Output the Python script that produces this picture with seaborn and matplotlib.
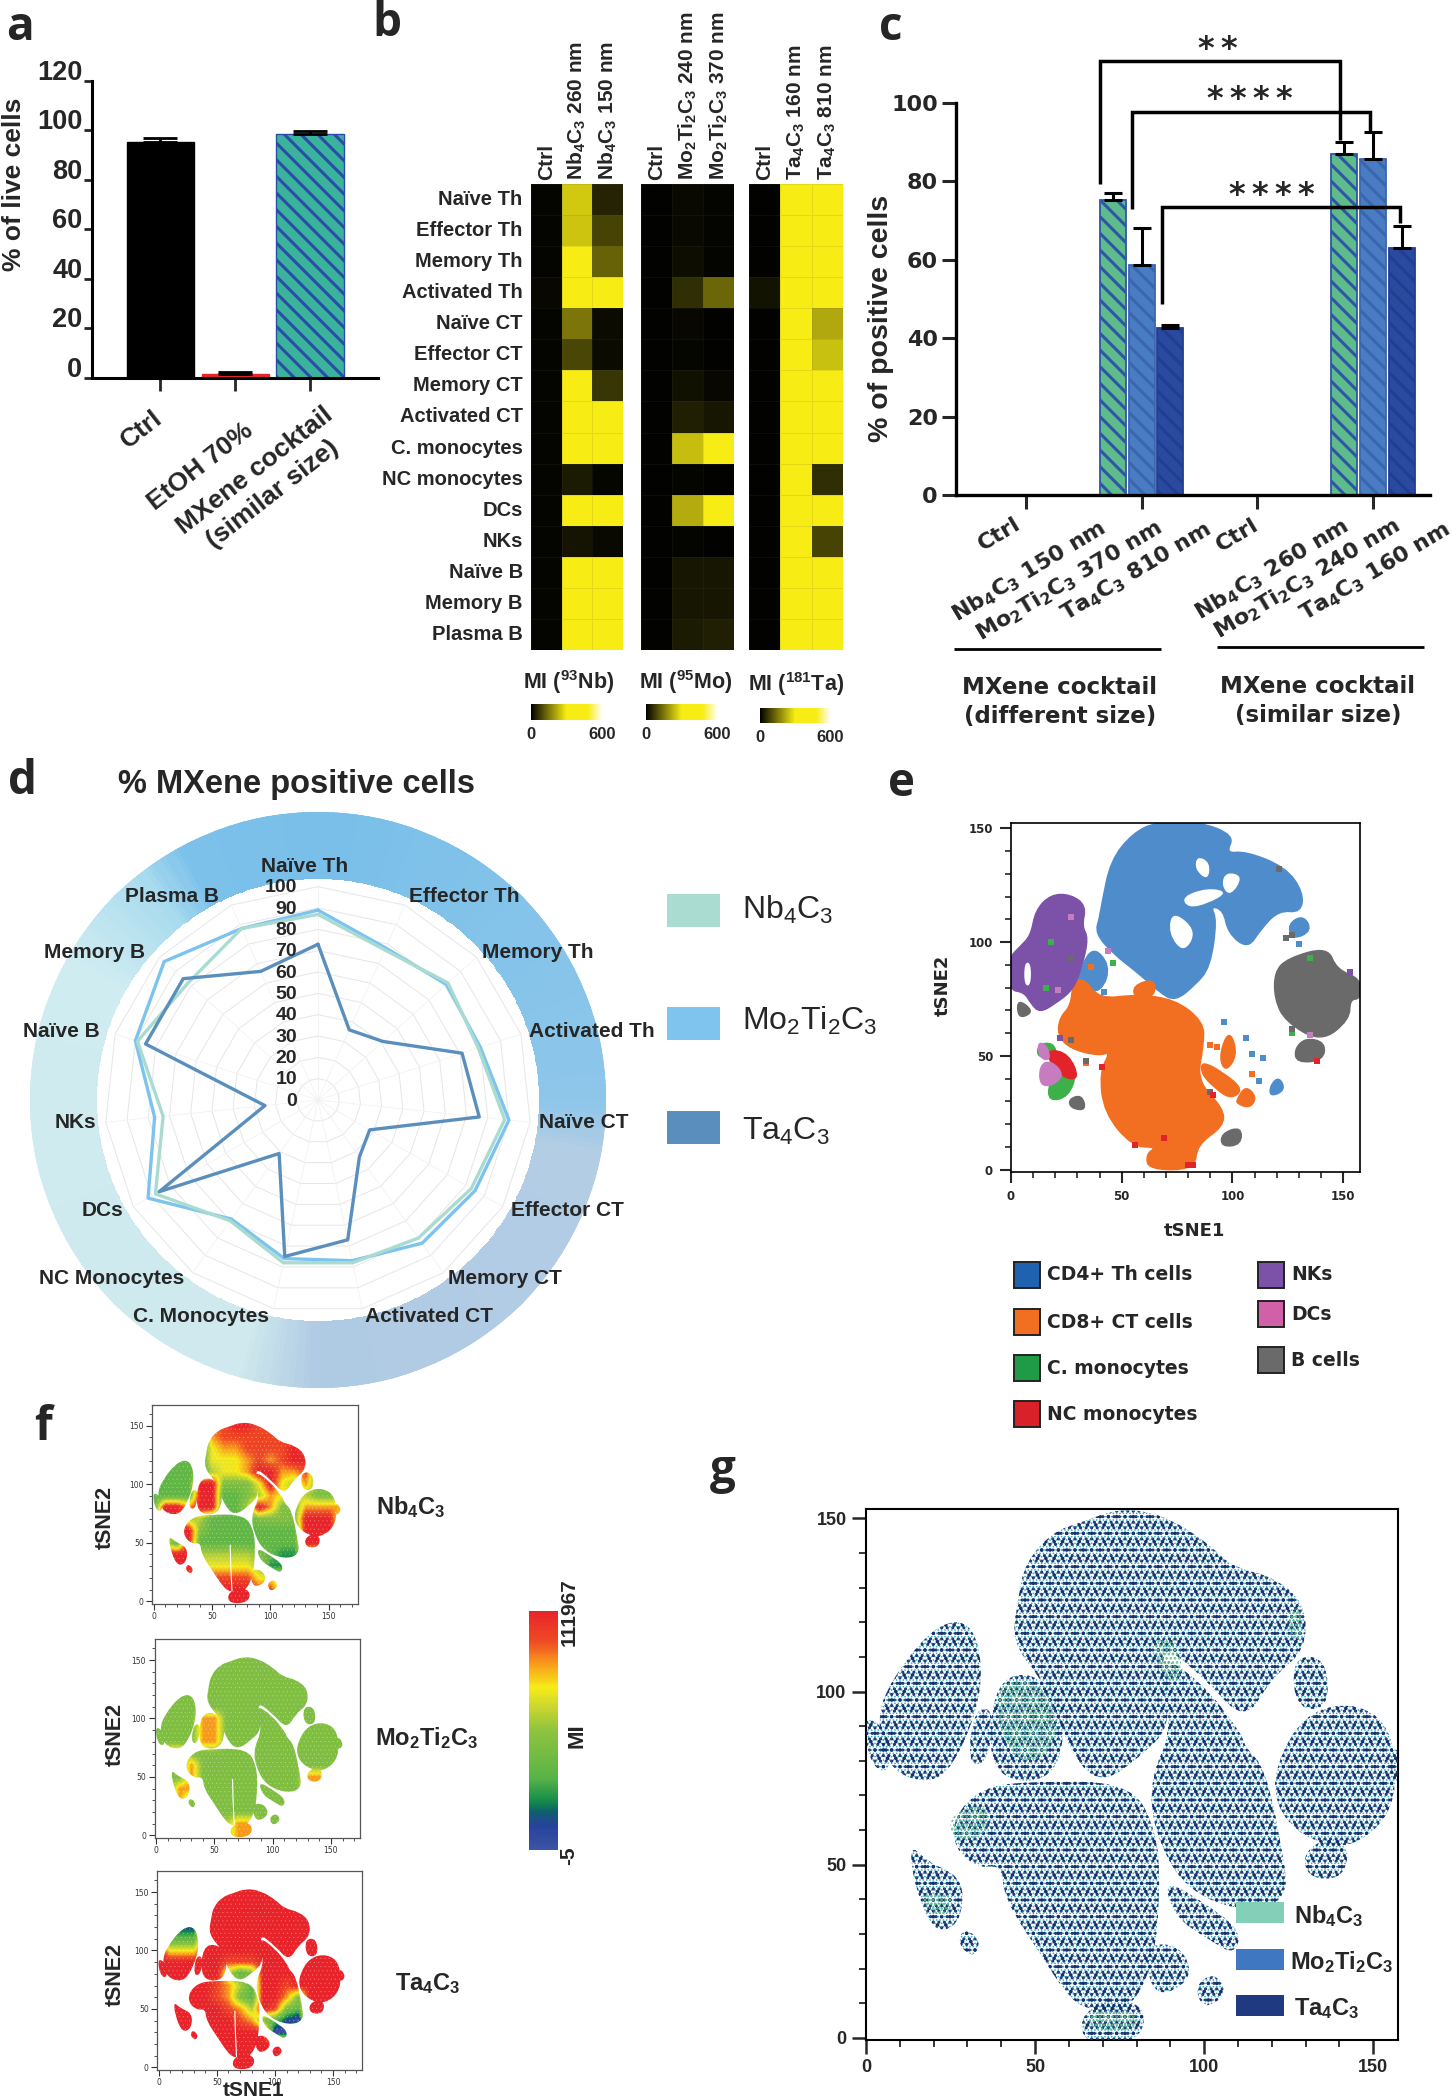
"""
MXene cocktail figure: panels a-g (viability, heatmaps, uptake, radar, tSNE maps).
"""

import matplotlib as mpl

mpl.use("Agg")

import matplotlib.pyplot as plt
import numpy as np
import pandas as pd
import seaborn as sns
from matplotlib.cm import ScalarMappable
from matplotlib.colors import LinearSegmentedColormap, Normalize
from matplotlib.lines import Line2D
from matplotlib.patches import PathPatch, Rectangle
from matplotlib.path import Path
from matplotlib.ticker import MultipleLocator

# ==========================================================
# Data
# ==========================================================

NB = "Nb$_4$C$_3$"
MO = "Mo$_2$Ti$_2$C$_3$"
TA = "Ta$_4$C$_3$"

# panel a
LIVE_LABELS = ["Ctrl", "EtOH 70%", "MXene cocktail"]
LIVE_VALUES = [95.5, 1.6, 98.6]
LIVE_ERR = [1.5, 0.9, 1.0]

# panel b
CELL_ROWS = ["Naïve Th", "Effector Th", "Memory Th", "Activated Th", "Naïve CT", "Effector CT",
             "Memory CT", "Activated CT", "C. monocytes", "NC monocytes", "DCs", "NKs",
             "Naïve B", "Memory B", "Plasma B"]
NB_COLS = ["Ctrl", NB + " 260 nm", NB + " 150 nm"]
NB_CTRL = [6, 6, 6, 10, 5, 5, 5, 5, 5, 5, 5, 5, 5, 5, 5]
NB_260 = [255, 250, 320, 320, 150, 90, 320, 320, 320, 35, 320, 28, 320, 320, 320]
NB_150 = [45, 85, 125, 320, 15, 15, 70, 320, 320, 8, 320, 12, 320, 320, 320]
MO_COLS = ["Ctrl", MO + " 240 nm", MO + " 370 nm"]
MO_CTRL = [3] * 15
MO_240 = [12, 12, 18, 60, 10, 8, 22, 40, 240, 5, 220, 6, 30, 30, 35]
MO_370 = [6, 6, 5, 130, 4, 4, 10, 30, 320, 3, 320, 3, 30, 30, 40]
TA_COLS = ["Ctrl", TA + " 160 nm", TA + " 810 nm"]
TA_CTRL = [3, 3, 3, 25, 3, 3, 3, 3, 3, 3, 3, 3, 3, 3, 3]
TA_160 = [320] * 15
TA_810 = [320, 320, 320, 320, 215, 245, 320, 320, 320, 60, 320, 85, 320, 320, 320]

# panel c
POS_ORDER = ["Ctrl ", " ", "  ", "Nb 150", "Mo 370", "Ta 810", "   ", "    ",
             "Ctrl  ", "     ", "      ", "Nb 260", "Mo 240", "Ta 160"]
POS_BARS = ["Ctrl ", "Nb 150", "Mo 370", "Ta 810", "Ctrl  ", "Nb 260", "Mo 240", "Ta 160"]
POS_VALUES = [0, 75.2, 58.7, 42.7, 0, 87.0, 85.7, 62.9]
POS_ERR = [0, 1.8, 9.3, 0.7, 0, 3.0, 6.8, 5.6]
POS_LABELS = ["Ctrl", NB + " 150 nm", MO + " 370 nm", TA + " 810 nm",
              "Ctrl", NB + " 260 nm", MO + " 240 nm", TA + " 160 nm"]

# panel d
RADAR_LABELS = ["Naïve Th", "Effector Th", "Memory Th", "Activated Th", "Naïve CT", "Effector CT",
                "Memory CT", "Activated CT", "C. Monocytes", "NC Monocytes", "DCs", "NKs",
                "Naïve B", "Memory B", "Plasma B"]
RADAR_NB = [87, 77, 82, 79, 88, 83, 80, 78, 78, 70, 88, 73, 89, 82, 88]
RADAR_MO = [89, 78, 81, 80, 90, 85, 83, 77, 76, 69, 92, 77, 90, 97, 88]
RADAR_TA = [73, 36, 41, 71, 76, 28, 33, 67, 75, 31, 86, 25, 85, 85, 66]
RADAR_TICKS = [0, 10, 20, 30, 40, 50, 60, 70, 80, 90, 100]

E_TH = [[(41, 117), (45, 136), (55, 148), (66, 153), (85, 153), (101, 147), (97, 139), (106, 140),
         (124, 133), (132, 122), (131, 113), (121, 114), (113, 106), (107, 97), (98, 104), (96, 114),
         (90, 116), (93, 110), (90, 89), (83, 81), (74, 74), (67, 78), (58, 86), (46, 95), (38, 104),
         (40, 111)],
        [(29, 81), (36, 99), (45, 90), (41, 78), (31, 79)],
        [(125, 108), (132, 112), (136, 105), (127, 101)],
        [(117, 37), (121, 41), (124, 35), (117, 32)]]
E_TH_HOLES = [[(73, 114), (84, 105), (78, 95), (71, 104)],
              [(77, 120), (89, 124), (98, 122), (89, 117), (80, 115)],
              [(97, 131), (105, 129), (99, 120), (95, 125)],
              [(84, 138), (90, 135), (89, 127), (83, 132)],
              [(6, 91), (9, 91), (9, 81), (6, 81)]]
E_CT = [[(28, 83), (33, 84), (40, 75), (56, 77), (74, 75), (87, 65), (87, 55), (84, 39), (96, 27),
         (96, 19), (84, 11), (83, 0), (62, 0), (61, 7), (66, 10), (55, 10), (42, 25), (40, 43),
         (45, 52), (40, 50), (27, 53), (21, 59), (22, 67), (27, 72)],
        [(86, 48), (97, 42), (105, 35), (99, 31), (92, 36), (86, 42)],
        [(102, 31), (106, 37), (111, 32), (108, 27), (102, 29)],
        [(97, 59), (100, 59), (102, 50), (97, 43), (94, 49)],
        [(55, 81), (65, 84), (65, 76), (56, 75)]]
E_NK = [[(18, 121), (27, 121), (34, 116), (32, 107), (35, 102), (32, 89), (28, 79), (20, 73), (13, 69),
         (9, 73), (6, 78), (-1, 79), (-1, 93), (4, 98), (9, 103), (11, 114)]]
E_B = [[(119, 87), (125, 93), (143, 98), (147, 88), (158, 84), (158, 75), (153, 75), (153, 66),
        (140, 56), (124, 65), (119, 75)],
       [(128, 53), (133, 58), (142, 56), (141, 48), (129, 47)],
       [(3, 75), (10, 70), (6, 67), (3, 68)],
       [(26, 31), (32, 33), (34, 26), (27, 27)],
       [(95, 16), (104, 19), (104, 11), (95, 10)]]
E_CMONO = [[(22, 41), (30, 43), (26, 32), (17, 30), (17, 38)],
           [(12, 55), (19, 56), (21, 50), (12, 49)]]
E_NCMONO = [[(17, 53), (26, 51), (31, 40), (24, 40), (17, 48)]]
E_DC = [[(13, 46), (18, 48), (24, 42), (19, 37), (13, 37)],
        [(12, 56), (16, 55), (18, 48), (13, 49)]]
E_SPECKS = {
    "th": [(96, 65), (106, 58), (109, 51), (114, 49), (112, 39), (42, 78), (130, 99)],
    "ct": [(90, 55), (93, 54), (96, 49), (109, 42), (36, 89), (34, 47)],
    "mono": [(46, 91), (18, 100), (16, 80), (135, 93), (127, 60)],
    "dc": [(44, 96), (27, 111), (135, 59), (21, 79)],
    "nk": [(153, 87), (22, 58)],
    "b": [(127, 62), (127, 103), (90, 34), (34, 48), (27, 57), (124, 102), (121, 132), (27, 93)],
    "nc": [(91, 33), (80, 2), (56, 11), (69, 14), (138, 48), (41, 45), (82, 2)],
}

# panels f, g: same cells, outlines in tSNE units
TSNE_CLUSTERS = [
    [(45, 127), (47, 137), (55, 146), (64, 149), (75, 153), (88, 151), (101, 143), (108, 136), (121, 133),
     (130, 125), (130, 112), (120, 104), (112, 91), (100, 104), (86, 115), (91, 91), (81, 81), (69, 73),
     (60, 83), (54, 101), (43, 114)],
    [(85, 112), (99, 103), (111, 88), (112, 84), (118, 78), (123, 55), (125, 40), (112, 36), (94, 43),
     (85, 60), (84, 75), (91, 90)],
    [(7, 103), (21, 120), (32, 120), (35, 102), (28, 82), (20, 73), (7, 77), (3, 91)],
    [(-1, 94), (7, 88), (7, 76), (1, 79)],
    [(38, 103), (50, 106), (59, 94), (57, 77), (46, 73), (36, 79)],
    [(32, 95), (38, 95), (36, 79), (30, 79)],
    [(26, 64), (34, 72), (46, 74), (78, 74), (86, 60), (87, 42), (85, 21), (78, 8), (65, 8), (59, 13),
     (51, 25), (41, 40), (40, 50), (33, 49), (26, 55)],
    [(82, 27), (93, 27), (97, 17), (85, 11)],
    [(97, 15), (103, 19), (107, 13), (100, 8)],
    [(63, 6), (72, 12), (83, 9), (81, -1), (65, -2)],
    [(88, 46), (100, 39), (111, 31), (109, 24), (102, 28), (91, 35)],
    [(121, 79), (130, 94), (145, 97), (156, 89), (157, 66), (143, 54), (129, 58), (121, 67)],
    [(126, 110), (136, 110), (137, 95), (127, 95)],
    [(129, 53), (136, 58), (143, 55), (141, 46), (131, 46)],
    [(156, 85), (161, 78), (157, 73), (154, 78)],
    [(13, 56), (18, 51), (29, 46), (28, 33), (20, 30), (14, 45)],
    [(29, 32), (34, 28), (32, 23), (27, 27)],
]
TSNE_GAPS = [[(67, 9), (66, 30), (65.5, 48)]]

# panel f: MI level per 10x10 tSNE cell, 0 (blue) to 9 (red), top row y=150, bottom row y=0
MI_NB = ["33333789988888333", "33333788888888333", "33333677888898333", "33333666787899833",
         "33333566799778333", "33339944469657444", "33339933457665444", "39979933597447777",
         "59955333344449995", "55994333333339995", "95393333333339955", "99995555543225555",
         "99996666652225555", "88888888866555555", "99999999988555555", "99999999999555555"]
MI_MO = ["44444444444444444", "44444444444444444", "44444444444444444", "44444444444444444",
         "44444444444444444", "44447744444444444", "44447744444444444", "44447744444444444",
         "47744444444444444", "44474444444444444", "44474444444447744", "44774444444447744",
         "44744444444444444", "44444444444444444", "44444457744444444", "44444457774444444"]
MI_TA = ["99999999999999999", "99999999999999999", "99999999999999999", "91119999999999999",
         "93339999999999999", "96669999999999999", "99999988899999999", "99999953499999999",
         "99999875399899999", "99999874399749999", "99999987598439999", "99999998743109999",
         "99999999990099999", "99999999999999999", "99999999999999999", "99999999999999999"]

# panel g: places where the green cells are packed tighter
G_DENSE = [[(84, 115), (92, 115), (94, 103), (88, 103)],
           [(39, 103), (52, 103), (58, 90), (52, 80), (44, 80), (39, 90)],
           [(25, 65), (36, 68), (36, 58), (25, 57)],
           [(14, 42), (27, 42), (23, 33)],
           [(66, 8), (80, 8), (80, 2), (66, 2)],
           [(125, 124), (129, 124), (129, 115), (125, 115)]]

# ==========================================================
# Figure helpers
# ==========================================================

W, H = 1452, 2100

sns.set_theme(style="white")
plt.rcParams["font.family"] = ["Liberation Sans", "DejaVu Sans"]
plt.rcParams["font.weight"] = "bold"
plt.rcParams["mathtext.default"] = "regular"
plt.rcParams["hatch.linewidth"] = 2.2

fig = plt.figure(figsize=(W / 100, H / 100), dpi=100, facecolor="white")


def px_axes(left, top, right, bottom, **kwargs):
    return fig.add_axes([left / W, 1 - bottom / H, (right - left) / W, (bottom - top) / H], **kwargs)


def ftext(x, y, text, size, **kwargs):
    kwargs.setdefault("ha", "center")
    kwargs.setdefault("va", "center")
    kwargs.setdefault("weight", "bold")
    return fig.text(x / W, 1 - y / H, text, fontsize=size, **kwargs)


def fline(xs, ys, lw=2.5, color="black"):
    fig.add_artist(Line2D([x / W for x in xs], [1 - y / H for y in ys], lw=lw, color=color,
                          solid_capstyle="butt", solid_joinstyle="miter"))


def fbox(left, top, right, bottom, color, edge="none", lw=0):
    fig.add_artist(Rectangle((left / W, 1 - bottom / H), (right - left) / W, (bottom - top) / H,
                             facecolor=color, edgecolor=edge, lw=lw, transform=fig.transFigure))


def round_outline(points):
    """Closed bezier path with the outline's points as control points, so corners draw round."""
    pts = np.array(points, dtype=float)
    mids = (pts + np.roll(pts, -1, axis=0)) / 2
    verts = [mids[-1]]
    codes = [Path.MOVETO]
    for p, m in zip(pts, mids):
        verts += [p, m]
        codes += [Path.CURVE3, Path.CURVE3]
    return Path(verts, codes)


for letter, lx, ly in [("a", 20, 28), ("b", 387, 24), ("c", 891, 27), ("d", 22, 781),
                       ("e", 902, 784), ("f", 43, 1428), ("g", 723, 1471)]:
    ftext(lx, ly, letter, 33, family="Open Sans")

# ==========================================================
# Panel a
# ==========================================================

ax = px_axes(92, 81, 378, 378)
sns.barplot(x=LIVE_LABELS, y=LIVE_VALUES, ax=ax, color="black", width=0.9, saturation=1)
for patch, face, edge, hatch in zip(ax.patches, ["black", "#e8262a", "#3bb39c"],
                                    ["black", "#e8262a", "#2a4da8"], [None, None, "\\\\"]):
    patch.set_facecolor(face)
    patch.set_edgecolor(edge)
    patch.set_linewidth(1)
    patch.set_hatch(hatch)
centers = [p.get_x() + p.get_width() / 2 for p in ax.patches]
ax.errorbar(centers, LIVE_VALUES, yerr=[[0, 0, 0], LIVE_ERR], fmt="none", ecolor="black",
            elinewidth=2, capsize=12, capthick=2)
ax.set_xlim(-0.916, 2.91)
ax.set_ylim(0, 120)
ax.set_yticks(range(0, 121, 20))
ax.set_xticklabels([])
ax.tick_params(axis="y", length=6, width=2, left=True, pad=1, labelsize=19.5)
ax.tick_params(axis="x", length=9, width=2, bottom=True)
sns.despine(ax=ax)
for side in ["left", "bottom"]:
    ax.spines[side].set_linewidth(2.2)
    ax.spines[side].set_color("black")
for label in ax.get_yticklabels():
    label.set_transform(label.get_transform() + mpl.transforms.ScaledTranslation(0, 0.11, fig.dpi_scale_trans))
ftext(14, 184, "% of live cells", 19, rotation=90)
ftext(152, 406, "Ctrl", 19, ha="right", va="top", rotation=38, rotation_mode="anchor")
ftext(243, 418, "EtOH 70%", 19, ha="right", va="top", rotation=38, rotation_mode="anchor")
ftext(264, 483, "MXene cocktail\n(similar size)", 19, rotation=38, linespacing=1.3, multialignment="center")

# ==========================================================
# Panel b
# ==========================================================

mi_cmap = LinearSegmentedColormap.from_list(
    "mi_yellow", [(0, "#000000"), (0.5, "#f7ec13"), (0.8, "#f7ec13"), (1, "#fffef0")])

heat_sets = [
    (NB_COLS, [NB_CTRL, NB_260, NB_150], (531, 623), (531, 704, 602, 720), "MI ($^{93}$Nb)", 569, 682),
    (MO_COLS, [MO_CTRL, MO_240, MO_370], (641, 734), (646, 704, 717, 720), "MI ($^{95}$Mo)", 686, 682),
    (TA_COLS, [TA_CTRL, TA_160, TA_810], (749, 843), (760, 708, 830, 723), "MI ($^{181}$Ta)", 796, 684),
]
for i, (cols, values, xr, cb, title, tx, ty) in enumerate(heat_sets):
    ax = px_axes(xr[0], 184, xr[1], 650)
    cax = px_axes(cb[0], cb[1], cb[2], cb[3])
    table = pd.DataFrame(np.array(values).T, index=CELL_ROWS, columns=cols)
    sns.heatmap(table, ax=ax, cmap=mi_cmap, vmin=0, vmax=600, cbar_ax=cax, linewidths=0.4,
                linecolor="#5a5a3a22", yticklabels=(i == 0),
                cbar_kws={"orientation": "horizontal", "ticks": [0, 600]})
    ax.xaxis.tick_top()
    ax.set_xticklabels(cols, rotation=90, fontsize=15, weight="bold")
    ax.tick_params(axis="x", length=0, pad=3)
    if i == 0:
        ax.set_yticklabels(CELL_ROWS, rotation=0, fontsize=14.5, weight="bold")
        ax.tick_params(axis="y", length=0, pad=6)
    cax.tick_params(length=0, labelsize=12, pad=5)
    ax.collections[0].colorbar.outline.set_edgecolor("#777777")
    ftext(tx, ty, title, 15.5)

# ==========================================================
# Panel c
# ==========================================================

plt.rcParams["hatch.linewidth"] = 2.2
ax = px_axes(956, 103, 1430, 495)
sns.barplot(x=POS_BARS, y=POS_VALUES, order=POS_ORDER, ax=ax, color="#4a7cc4", width=0.9, saturation=1)
pos_faces = ["#5dbb8c", "#4a7cc4", "#2a4a9f"]
pos_hatch = ["#2f56a6", "#3a66ad", "#223e92"]
bars = [p for p in ax.patches]
for j, patch in enumerate(bars):
    shade = (j - 1) % 4 if j % 4 else 0
    patch.set_facecolor(pos_faces[shade])
    patch.set_edgecolor(pos_hatch[shade])
    patch.set_linewidth(1.3)
    patch.set_hatch("\\\\")
tops = [(p.get_x() + p.get_width() / 2, v, e) for p, v, e in zip(bars, POS_VALUES, POS_ERR) if v > 0]
ax.errorbar([t[0] for t in tops], [t[1] for t in tops], yerr=[[0] * 6, [t[2] for t in tops]],
            fmt="none", ecolor="black", elinewidth=2.2, capsize=6.5, capthick=2.2)
ax.set_xlim(-2.42, 13.98)
ax.set_ylim(0, 100)
ax.set_xticks([0, 4, 8, 12])
ax.set_xticklabels([])
ax.set_yticks(range(0, 101, 20))
ax.set_yticklabels([str(v) for v in range(0, 101, 20)], family="DejaVu Sans", weight="bold", fontsize=16)
ax.tick_params(axis="y", length=10, width=2.2, left=True, pad=3)
ax.tick_params(axis="x", length=10, width=2.2, bottom=True)
sns.despine(ax=ax)
for side in ["left", "bottom"]:
    ax.spines[side].set_linewidth(2.4)
    ax.spines[side].set_color("black")
ftext(881, 318, "% of positive cells", 20.5, rotation=90)
for text, ex, ey in zip(POS_LABELS, [1014, 1098, 1154, 1203, 1252, 1341, 1392, 1442], [514, 516, 516, 518, 515, 514, 514, 518]):
    ftext(ex, ey, text, 16, ha="right", va="top", rotation=31, rotation_mode="anchor", family=["DejaVu Sans"])
fline([1100, 1100, 1340, 1340], [184, 60.5, 60.5, 140])
fline([1132, 1132, 1370, 1370], [209, 112, 112, 131])
fline([1162, 1162, 1400, 1400], [304, 207, 207, 223])
ftext(1218, 49, "*\u2009*", 23, family=["DejaVu Sans"])
ftext(1250, 99, "*\u2009*\u2009*\u2009*", 23, family=["DejaVu Sans"])
ftext(1272, 196, "*\u2009*\u2009*\u2009*", 23, family=["DejaVu Sans"])
fline([954, 1161], [649, 649], lw=2)
fline([1217, 1424], [647, 647], lw=2)
ftext(1060, 702, "MXene cocktail\n(different size)", 16.5, family=["DejaVu Sans"], linespacing=1.3)
ftext(1318, 701, "MXene cocktail\n(similar size)", 16.5, family=["DejaVu Sans"], linespacing=1.3)

# ==========================================================
# Panel d
# ==========================================================

ring_cmap = LinearSegmentedColormap.from_list(
    "ring", [(0, "#79bfe9"), (90 / 360, "#8ec6ea"), (100 / 360, "#b2cde4"), (180 / 360, "#afcae3"),
             (196 / 360, "#cfe9ee"), (300 / 360, "#cfecf1"), (322 / 360, "#a9dbee"), (332 / 360, "#7cc1ea"),
             (1, "#79bfe9")])
ax = px_axes(30, 812, 606, 1388, projection="polar")
ax.set_theta_zero_location("N")
ax.set_theta_direction(-1)
ring_theta = np.deg2rad(np.arange(0, 361))
ax.pcolormesh(ring_theta, [104, 135], (np.arange(360) / 360).reshape(1, -1), cmap=ring_cmap, vmin=0, vmax=1,
              edgecolors="face", linewidth=0.3)

radar_theta = np.deg2rad(np.arange(0, 361, 24))
for level in RADAR_TICKS[1:]:
    ax.plot(radar_theta, [level] * len(radar_theta), color="#e6e6e6", lw=0.7, zorder=1)
for angle in radar_theta[:-1]:
    ax.plot([angle, angle], [0, 100], color="#f2f2f2", lw=0.6, zorder=1)
for series, color in [(RADAR_MO, "#7cc3ee"), (RADAR_NB, "#a9dbd0"), (RADAR_TA, "#5a8fbd")]:
    sns.lineplot(x=radar_theta, y=series + series[:1], ax=ax, sort=False, estimator=None,
                 color=color, lw=2.4, legend=False, zorder=3)
ax.set_rlim(0, 135)
ax.set_xticks([])
ax.set_yticks([])
ax.set_xlabel("")
ax.set_ylabel("")
ax.grid(False)
ax.spines["polar"].set_visible(False)

radar_label_px = [(305, 866), (464, 897), (538, 952), (592, 1031), (584, 1122), (567, 1210), (505, 1278),
                  (429, 1316), (201, 1317), (112, 1278), (103, 1210), (75, 1122), (61, 1031), (95, 952),
                  (172, 897)]
for text, (lx, ly) in zip(RADAR_LABELS, radar_label_px):
    ftext(lx, ly, text, 15)
for level in RADAR_TICKS:
    ftext(297, 1101 - 2.13 * level, str(level), 14, ha="right")
ftext(297, 785, "% MXene positive cells", 23.5)

for text, color, top, tx_y in [(NB, "#abdcd2", 894, 910), (MO, "#7fc4ee", 1007, 1021), (TA, "#5a8fbd", 1111, 1131)]:
    fbox(667, top, 720, top + 33, color)
    ftext(742, tx_y, text, 23, ha="left", weight="normal")

# ==========================================================
# Panel e
# ==========================================================

E_COLORS = {"th": "#4f8ccb", "ct": "#f26f21", "mono": "#3eb04a", "dc": "#c77cc0", "nk": "#7b52a8",
            "b": "#6a6a6a", "nc": "#e2232a"}
ax = px_axes(1011, 823, 1360, 1172)
for polys, key in [(E_TH, "th"), (E_CT, "ct"), (E_NK, "nk"), (E_B, "b"), (E_CMONO, "mono"),
                   (E_NCMONO, "nc"), (E_DC, "dc")]:
    for poly in polys:
        ax.add_patch(PathPatch(round_outline(poly), facecolor=E_COLORS[key], edgecolor=E_COLORS[key], lw=1, zorder=2))
for poly in E_TH_HOLES:
    ax.add_patch(PathPatch(round_outline(poly), facecolor="white", edgecolor="none", lw=0, zorder=3))
for key, pts in E_SPECKS.items():
    xs, ys = zip(*pts)
    sns.scatterplot(x=list(xs), y=list(ys), ax=ax, marker="s", s=22, color=E_COLORS[key], linewidth=0, zorder=4)
ax.set_xlim(0, 157.6)
ax.set_ylim(-1, 152.4)
ax.xaxis.set_major_locator(MultipleLocator(50))
ax.xaxis.set_minor_locator(MultipleLocator(10))
ax.yaxis.set_major_locator(MultipleLocator(50))
ax.yaxis.set_minor_locator(MultipleLocator(10))
ax.tick_params(which="major", length=8, width=1.5, bottom=True, left=True, labelsize=8.5, pad=5)
ax.tick_params(which="minor", length=4, width=1.2, bottom=True, left=True)
for label in ax.get_xticklabels() + ax.get_yticklabels():
    label.set_family("DejaVu Sans")
    label.set_weight("bold")
for spine in ax.spines.values():
    spine.set_color("black")
    spine.set_linewidth(1.2)
ftext(1194, 1231, "tSNE1", 13, family=["DejaVu Sans"])
ftext(943, 985, "tSNE2", 13, family=["DejaVu Sans"], rotation=90)

for text, color, bx, by in [("CD4+ Th cells", "#1f63b0", 1014, 1262), ("CD8+ CT cells", "#f26f21", 1014, 1309),
                            ("C. monocytes", "#1f9a47", 1014, 1355), ("NC monocytes", "#d9212a", 1014, 1401),
                            ("NKs", "#7b52a8", 1258, 1262), ("DCs", "#d060a8", 1258, 1301),
                            ("B cells", "#6a6a6a", 1258, 1347)]:
    fbox(bx, by, bx + 26, by + 26, color, edge="#222222", lw=1.4)
    ftext(bx + 33, by + 13, text, 13.5, ha="left", family=["DejaVu Sans"])

# ==========================================================
# Panel f
# ==========================================================

tsne_colors = [(0, "#3b54a4"), (0.1, "#27429c"), (0.16, "#0f5f6b"), (0.2, "#118a4a"), (0.3, "#58b447"),
               (0.5, "#8fc33f"), (0.62, "#d6dc2a"), (0.68, "#f6eb16"), (0.78, "#f89a1c"), (0.87, "#ef4c24"),
               (1, "#e8232a")]
tsne_cmap = LinearSegmentedColormap.from_list("tsne_mi", tsne_colors)

cluster_path = Path.make_compound_path(*[round_outline(c) for c in TSNE_CLUSTERS])

plt.rcParams["hatch.linewidth"] = 0.3
for rows, box, name, name_x, name_y, ylab in [
    (MI_NB, (152, 1404.5, 358, 1604), NB, 376, 1507, (105, 1517)),
    (MI_MO, (154.5, 1639, 360, 1838), MO, 375, 1738, (115, 1734)),
    (MI_TA, (157, 1871, 362, 2070), TA, 395, 1984, (115, 1974)),
]:
    ax = px_axes(*box)
    grid = np.array([[int(c) for c in row] for row in rows])
    im = ax.imshow(grid, extent=[-5, 165, -5, 155], cmap=tsne_cmap, vmin=0, vmax=9,
                   interpolation="bilinear", aspect="auto", zorder=1)
    im.set_clip_path(PathPatch(cluster_path, transform=ax.transData))
    # white grain over the cells
    ax.add_patch(PathPatch(cluster_path, facecolor="none", edgecolor=(1, 1, 1, 0.3), hatch="....", lw=0, zorder=2))
    for gap in TSNE_GAPS:
        xs, ys = zip(*gap)
        ax.plot(xs, ys, color="white", lw=0.8, zorder=3)
    ax.set_xlim(-1.5, 175)
    ax.set_ylim(-2.3, 168)
    ax.set_xticks([0, 50, 100, 150])
    ax.set_yticks([0, 50, 100, 150])
    ax.xaxis.set_minor_locator(MultipleLocator(10))
    ax.yaxis.set_minor_locator(MultipleLocator(10))
    ax.tick_params(which="major", length=4, width=0.8, bottom=True, left=True, labelsize=5.5, pad=2, colors="#333333")
    ax.tick_params(which="minor", length=2, width=0.6, bottom=True, left=True, colors="#333333")
    for label in ax.get_xticklabels() + ax.get_yticklabels():
        label.set_weight("normal")
        label.set_family("DejaVu Sans")
    for spine in ax.spines.values():
        spine.set_color("#555555")
        spine.set_linewidth(0.9)
    ftext(name_x, name_y, name, 17, ha="left")
    ftext(ylab[0], ylab[1], "tSNE2", 15.5, rotation=90)
ftext(254, 2091, "tSNE1", 15)

cax = px_axes(529, 1610.5, 558, 1850)
bar = fig.colorbar(ScalarMappable(Normalize(0, 1), tsne_cmap), cax=cax)
bar.set_ticks([])
bar.outline.set_visible(False)
ftext(569, 1612, "111967", 15, rotation=90)
ftext(569, 1856, "-5", 15, rotation=90)
ftext(577, 1736, "MI", 16, rotation=90)

# ==========================================================
# Panel g
# ==========================================================

ax = px_axes(866, 1509, 1398, 2040)
for poly in TSNE_CLUSTERS:
    outline = round_outline(poly)
    plt.rcParams["hatch.linewidth"] = 0.7
    ax.add_patch(PathPatch(outline, facecolor="none", edgecolor="#2fb0c0", hatch=".....", lw=0, zorder=2))
    plt.rcParams["hatch.linewidth"] = 1.4
    ax.add_patch(PathPatch(outline, facecolor="none", edgecolor="#16306f", hatch="...", lw=0, zorder=3))
    ax.add_patch(PathPatch(outline, facecolor="none", edgecolor="#16306f", hatch="..", lw=0, zorder=3))
plt.rcParams["hatch.linewidth"] = 1.2
for poly in G_DENSE:
    ax.add_patch(PathPatch(round_outline(poly), facecolor="none", edgecolor="#5cc08a", hatch="....", lw=0, zorder=4))
ax.set_xlim(0, 157.3)
ax.set_ylim(-0.6, 152.7)
ax.set_xticks([0, 50, 100, 150])
ax.set_yticks([0, 50, 100, 150])
ax.xaxis.set_minor_locator(MultipleLocator(10))
ax.yaxis.set_minor_locator(MultipleLocator(10))
ax.tick_params(which="major", length=10, width=1.8, bottom=True, left=True, labelsize=13, pad=4)
ax.tick_params(which="minor", length=5, width=1.3, bottom=True, left=True)
for spine in ax.spines.values():
    spine.set_color("black")
    spine.set_linewidth(1.5)
for text, color, top, tx, ty in [(NB, "#83cfb8", 1902, 1294, 1916), (MO, "#3f78c0", 1949, 1290, 1962),
                                 (TA, "#1f3a80", 1995, 1294, 2009)]:
    fbox(1236, top, 1284, top + 21, color)
    ftext(tx, ty, text, 17, ha="left")

fig.savefig("out.png", dpi=100)
